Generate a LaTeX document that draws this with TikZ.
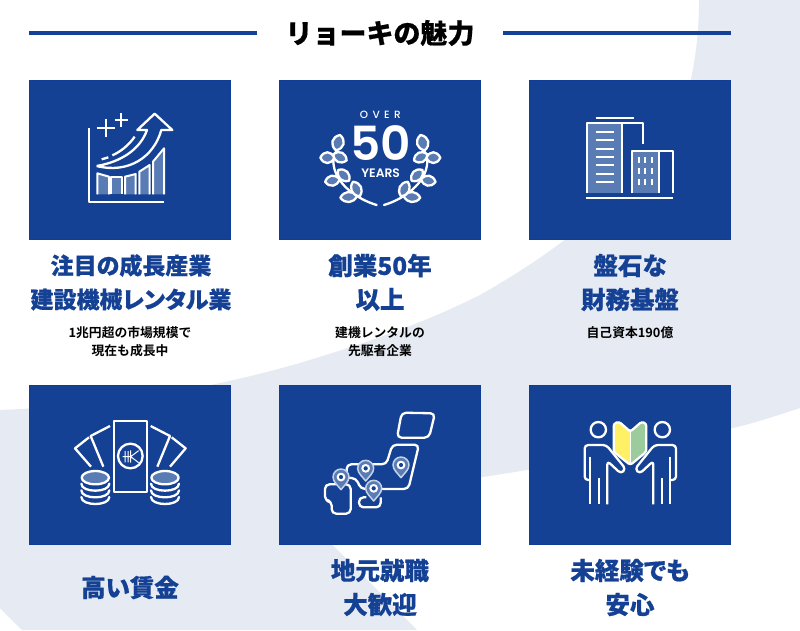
\documentclass[tikz,border=0pt]{standalone}
\usepackage{fontspec}
\newfontfamily\cjkblack{Noto Sans CJK JP Black}[FakeBold=0.35]
\newfontfamily\cjkhead{Noto Sans CJK JP Black}[FakeBold=0.5,RawFeature={+palt}]
\newfontfamily\cjkbold{Noto Sans CJK JP Bold}
\newfontfamily\pop{Poppins Medium}
\newfontfamily\popsemi{Poppins SemiBold}
\definecolor{navy}{HTML}{154194}
\definecolor{rule}{HTML}{15409A}
\definecolor{edge}{HTML}{0F3C96}
\definecolor{band}{HTML}{E6EAF3}
\definecolor{tint}{HTML}{5A7CB4}
\definecolor{pinedge}{HTML}{C5D1E6}
\definecolor{badgey}{HTML}{FFF066}
\definecolor{badgeg}{HTML}{9CCB9C}
\tikzset{
  card/.style={fill=navy,draw=edge,line width=0.6pt},
  rulebar/.style={draw=rule,line width=4pt},
  titletext/.style={font=\cjkblack\fontsize{27}{27}\selectfont,text=black,inner sep=0pt},
  head/.style={font=\cjkhead\fontsize{24.5}{24.5}\selectfont,text=navy,inner sep=0pt},
  headlong/.style={font=\cjkhead\fontsize{23}{23}\selectfont,text=navy,inner sep=0pt},
  subt/.style={font=\cjkbold\fontsize{12.8}{13}\selectfont,text=black,inner sep=0pt},
  wl/.style={draw=white,line width=2.3pt},
  wt/.style={draw=white,line width=2pt,fill=tint},
  icon/.style={x=0.33333pt,y=-0.33333pt,line join=round},
  pinshape/.style={draw=pinedge,line width=1.5pt,fill=tint},
  pinhole/.style={draw=white,line width=2pt,fill=navy},
}
% leaf: pointed oval of half-length #3 and half-width #4, turned by #5 about (#1,#2)
\newcommand{\leafmark}[5]{\draw[wl,fill=tint,rotate around={#5:(#1,#2)}] (#1-#3,#2) .. controls (#1-0.5*#3,#2-1.35*#4) and (#1+0.5*#3,#2-1.35*#4) .. (#1+#3,#2) .. controls (#1+0.5*#3,#2+1.35*#4) and (#1-0.5*#3,#2+1.35*#4) .. (#1-#3,#2) -- cycle;}
\newcommand{\laurel}{%
  \draw[wl,line cap=round] (293,375) .. controls (235,358) and (165,310) .. (163,245) .. controls (163,230) and (168,218) .. (175,210);
  \leafmark{177}{188}{24}{17}{75}
  \leafmark{145}{233}{21}{16}{0}
  \leafmark{183}{232}{22}{15}{-25}
  \leafmark{160}{302}{22}{15}{10}
  \leafmark{194}{286}{23}{15}{-45}
  \leafmark{209}{351}{25}{15}{5}
  \leafmark{232}{327}{24}{15}{-65}
}
\newcommand{\coins}[1]{%
  \draw[wl,fill=tint] (#1,278) ellipse [x radius=41,y radius=20];
  \draw[wl,line cap=round] (#1-42,296) .. controls (#1-42,324) and (#1+42,324) .. (#1+42,296);
  \draw[wl,line cap=round] (#1-42,316) .. controls (#1-42,344) and (#1+42,344) .. (#1+42,316);
  \draw[wl,line cap=round] (#1-42,336) .. controls (#1-42,364) and (#1+42,364) .. (#1+42,336);
}
\newcommand{\pinmark}[2]{%
  \draw[pinshape,shift={(#1,#2)}] (0,38) .. controls (-10,25) and (-24,14) .. (-24,0) .. controls (-24,-13) and (-13,-24) .. (0,-24) .. controls (13,-24) and (24,-13) .. (24,0) .. controls (24,14) and (10,25) .. (0,38) -- cycle;
  \draw[pinhole] (#1,#2) circle [radius=10];
}
\newcommand{\person}{%
  \draw[wl] (208,134) circle [radius=23];
  \draw[wl,rounded corners=3.5pt] (184,285) -- (167,285) -- (167,180) -- (232,180) -- (290,252) -- (276,266) -- (235,228) -- (235,358);
  \draw[wl] (184,215) -- (184,358);
  \draw[wl] (210,280) -- (210,358);
}
\begin{document}
\begin{tikzpicture}[x=1pt,y=-1pt]
\useasboundingbox (0,0) rectangle (800,630);
\fill[white] (0,0) rectangle (800,630);
% background band
\fill[band] (699,0) -- (800,0) -- (800,408) .. controls (770,418) and (750,424) .. (733,428)
  .. controls (650,450) and (560,465) .. (483,477) .. controls (420,487) and (360,498) .. (300,512)
  -- (417,630) -- (22,630) -- (0,608) -- (0,410) .. controls (120,405) and (210,388) .. (293,365)
  .. controls (360,345) and (420,325) .. (480,295) .. controls (560,250) and (670,170) .. (691,79)
  .. controls (697,50) and (699,25) .. (699,0) -- cycle;
% title
\coordinate (ruleAa) at (29,33); \coordinate (ruleAb) at (257,33);
\coordinate (ruleBa) at (503,33); \coordinate (ruleBb) at (731,33);
\draw[rulebar] (ruleAa) -- (ruleAb);
\draw[rulebar] (ruleBa) -- (ruleBb);
\node[titletext] (title) at (380,33) {リョーキの魅力};
% cards
\path[card] (29.3,80.3) rectangle (230.7,239.7);
\path[card] (279.3,80.3) rectangle (480.7,239.7);
\path[card] (529.3,80.3) rectangle (730.7,239.7);
\path[card] (29.3,385.3) rectangle (230.7,544.7);
\path[card] (279.3,385.3) rectangle (480.7,544.7);
\path[card] (529.3,385.3) rectangle (730.7,544.7);
% icon 1 chart
\begin{scope}[shift={(29,80)},icon]
  \draw[wt] (205,343) -- (205,280) -- (240,290) -- (240,343);
  \draw[wt] (247,343) -- (247,292) -- (280,292) -- (280,343);
  \draw[wt] (288,343) -- (288,290) -- (320,282) -- (320,343);
  \draw[wt] (331,343) -- (331,275) -- (362,255) -- (362,343);
  \draw[wt] (372,343) -- (372,245) -- (405,205) -- (405,343);
  \draw[wl] (179,145) -- (179,366) -- (405,366);
  \draw[wl] (231,118) -- (231,172) (203,145) -- (257,145);
  \draw[wl] (277,100) -- (277,140) (257,120) -- (297,120);
  \draw[wl,fill=navy] (203,258) .. controls (300,282) and (375,230) .. (397,150) -- (430,150) -- (377,101) -- (325,150) -- (354,150) .. controls (335,205) and (280,245) .. (203,258);
  \draw[wl] (218,238) -- (238,232);
  \draw[wl] (250,226) .. controls (275,215) and (300,195) .. (317,170);
\end{scope}
% icon 2 laurel
\begin{scope}[shift={(279,80)},icon]
  \laurel
  \begin{scope}[shift={(608,0)},xscale=-1]
    \laurel
  \end{scope}
  \node[text=white,inner sep=0pt,font=\pop\fontsize{10.5}{10.5}\selectfont\addfontfeature{LetterSpace=42}] (over) at (304,104) {OVER};
  \node[text=white,inner sep=0pt,font=\popsemi\fontsize{47}{47}\selectfont] (fifty) at (305,188) {50};
  \node[text=white,inner sep=0pt,font=\popsemi\fontsize{12.3}{12.3}\selectfont] (years) at (305,281) {YEARS};
\end{scope}
% icon 3 buildings
\begin{scope}[shift={(529,80)},icon]
  \fill[tint] (177,130) rectangle (280,340);
  \fill[tint] (308,213) rectangle (390,340);
  \draw[wl] (200,113) -- (316,113);
  \draw[wl] (172,355) -- (433,355);
  \draw[wl] (175,340) -- (175,130) -- (342,130) -- (342,192);
  \draw[wl] (279,130) -- (279,340);
  \foreach \ly in {155,180,206,231,256,282,307} { \draw[wl] (200,\ly) -- (256,\ly); }
  \draw[wl] (308,340) -- (308,213) -- (431,213) -- (431,340);
  \draw[wl] (390,213) -- (390,340);
  \foreach \wx in {330,349,368} { \foreach \wy in {240,273,305} { \draw[wl] (\wx,\wy-9) -- (\wx,\wy+9); } }
\end{scope}
% icon 4 money
\begin{scope}[shift={(29,385)},icon]
  \draw[wl] (254,108) rectangle (355,320);
  \draw[wl] (304,213) circle [radius=37];
  \draw[white,line width=1pt] (288,198) -- (288,232) (297,198) -- (297,232) (281,215) -- (305,215) (305,196) -- (305,233) (305,215) -- (329,197) (305,215) -- (329,233);
  \draw[wl] (243,123) -- (185,153) -- (223,245);
  \draw[wl] (180,157) -- (138,190) -- (186,245);
  \draw[wl] (365,123) -- (423,153) -- (385,245);
  \draw[wl] (428,157) -- (470,190) -- (423,245);
  \coins{199}
  \coins{408}
\end{scope}
% icon 5 map
\begin{scope}[shift={(279,385)},icon]
  \begin{scope}[wl,rounded corners=4.5pt]
    \draw (368,83) -- (468,85) -- (450,158) -- (354,158) -- cycle;
    \draw (203,262) -- (203,238) -- (322,238) -- (340,179) -- (420,179) -- (388,312) -- (285,312) -- (245,312) -- (232,280) -- (205,278);
    \draw (138,298) -- (215,298) -- (215,386) -- (158,386) -- (158,348) -- (138,348) -- cycle;
    \draw (262,337) -- (240,337) -- (240,367) -- (305,367) -- (305,337);
  \end{scope}
  \pinmark{186}{276}
  \pinmark{260}{250}
  \pinmark{284}{310}
  \pinmark{366}{240}
\end{scope}
% icon 6 people
\begin{scope}[shift={(529,385)},icon]
  \fill[badgey] (304,140) -- (270,110) -- (254,120) -- (254,200) -- (304,240) -- cycle;
  \fill[badgeg] (304,140) -- (338,110) -- (352,120) -- (352,200) -- (304,240) -- cycle;
  \draw[wl,rounded corners=2.5pt] (304,140) -- (270,110) -- (254,116) -- (254,200) -- (304,240) -- (352,200) -- (352,116) -- (338,110) -- cycle;
  \draw[white,line width=.8pt] (304,140) -- (304,240);
  \person
  \begin{scope}[shift={(608,0)},xscale=-1]
    \person
  \end{scope}
\end{scope}
% headings
\node[headlong] (h1a) at (131,265.5) {注目の成長産業};
\node[headlong] (h1b) at (131,299.5) {建設機械レンタル業};
\node[subt] (s1a) at (130,332.5) {1兆円超の市場規模で};
\node[subt] (s1b) at (130,350.5) {現在も成長中};
\node[head] (h2a) at (380,265.5) {創業50年};
\node[head] (h2b) at (380,299.5) {以上};
\node[subt] (s2a) at (380,332.5) {建機レンタルの};
\node[subt] (s2b) at (380,350.5) {先駆者企業};
\node[head] (h3a) at (630,265.5) {盤石な};
\node[head] (h3b) at (630,299.5) {財務基盤};
\node[subt] (s3a) at (630,332.5) {自己資本190億};
\node[head] (h4a) at (130,587.5) {高い賃金};
\node[head] (h5a) at (380,570.5) {地元就職};
\node[head] (h5b) at (380,604.5) {大歓迎};
\node[head] (h6a) at (630,570.5) {未経験でも};
\node[head] (h6b) at (630,604.5) {安心};
\end{tikzpicture}
\end{document}
